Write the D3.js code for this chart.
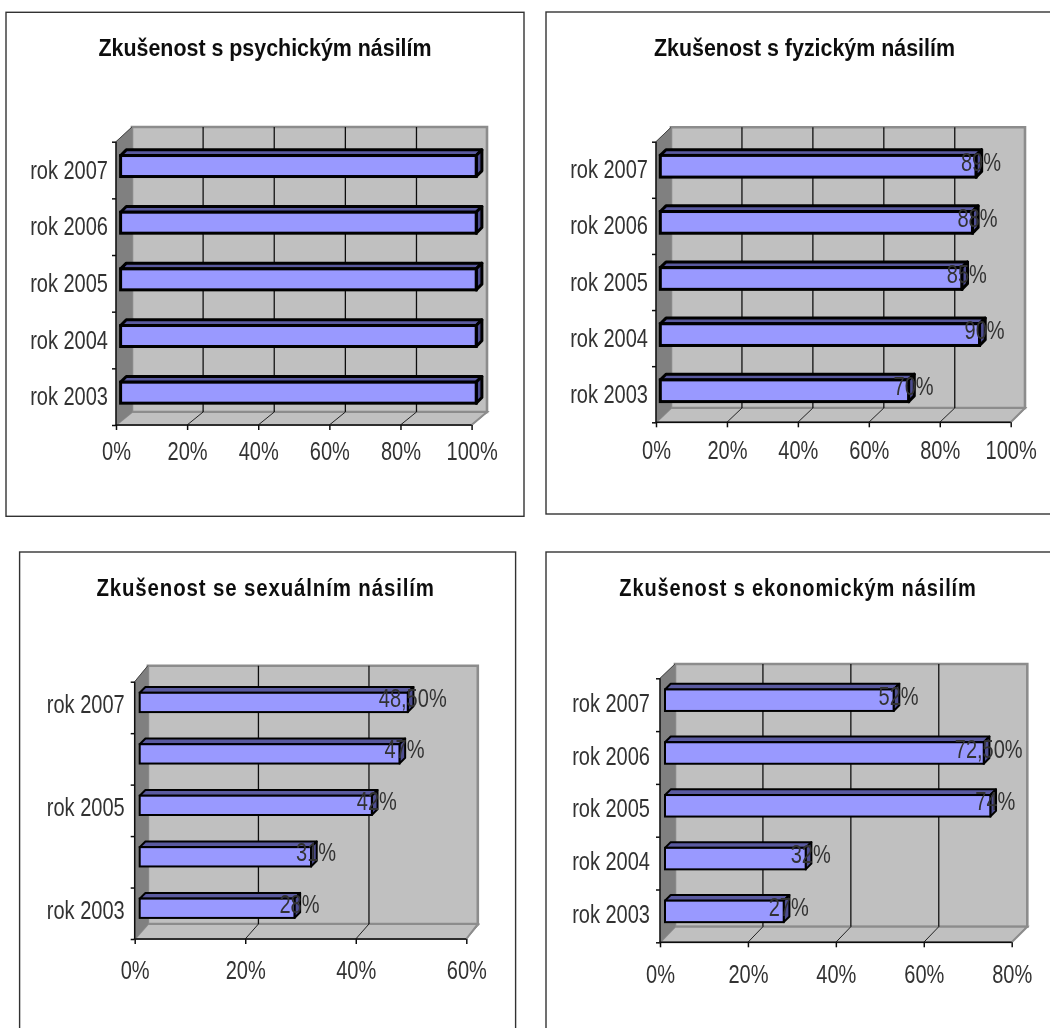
<!DOCTYPE html>
<html>
<head>
<meta charset="utf-8">
<script src="https://cdnjs.cloudflare.com/ajax/libs/d3/7.8.5/d3.min.js"></script>
<style>
html,body{margin:0;padding:0;background:#fff;overflow:hidden}
svg{display:block}
text{font-family:"Liberation Sans",Arial,sans-serif}
</style>
</head>
<body>
<svg id="c" width="1050" height="1028"></svg>
<script>
const years = ["rok 2003","rok 2004","rok 2005","rok 2006","rok 2007"];
const titles = ["Zkušenost s psychickým násilím","Zkušenost s fyzickým násilím","Zkušenost se sexuálním násilím","Zkušenost s ekonomickým násilím"];
const psychicke = [100,100,100,100,100];
const fyzicke = [70,90,85,88,89];
const sexualni = [28,31,42,47,48.5];
const ekonomicke = [27,32,74,72.5,52];
const sexualniCategoryLabels = ["rok 2003","","rok 2005","","rok 2007"];
const axisMax = [100,100,60,80];

const layouts = [
 {frame:[6,12.3,518,504],title:[98.5,431.5,56],ls:0,x0:116,x1:471.6,yT:141.7,yB:425,wL:132,wR:487,wT:127,wB:412,off:4.6,offY:4,bh:21,sw:3,labelDy:35.5,catDx:8,catDy:8.5,showLabels:false},
 {frame:[546,12,560,502],title:[654,955,56],ls:0,x0:656,x1:1010.7,yT:141.7,yB:422.3,wL:671,wR:1025,wT:127.3,wB:408,off:4.3,offY:3.5,bh:21.7,sw:3,labelDy:36.5,catDx:8,catDy:8.5,showLabels:true},
 {frame:[19.6,552,496,520],title:[96.4,434.9,596],ls:1,x0:134.7,x1:466.3,yT:681.7,yB:939,wL:147.9,wR:477.8,wT:665.7,wB:924,off:5,offY:5,bh:19.3,sw:2,labelDy:40.5,catDx:10,catDy:6,showLabels:true},
 {frame:[546,552,560,520],title:[619.3,976.7,595.5],ls:1,x0:660,x1:1011.7,yT:678.3,yB:942.3,wL:675,wR:1027.3,wT:664,wB:926.7,off:5,offY:4.5,bh:21.5,sw:2,labelDy:40.5,catDx:10,catDy:7,showLabels:true}
];
const seriesList = [psychicke,fyzicke,sexualni,ekonomicke];
const catList = [years,years,sexualniCategoryLabels,years];

const SX = 0.77, FS = 26, SIDE = 5.7;
const svg = d3.select("#c");
svg.append("defs").append("filter").attr("id","soft").attr("x","-2%").attr("y","-2%").attr("width","104%").attr("height","104%")
  .append("feGaussianBlur").attr("stdDeviation",0.4);
const root = svg.append("g").attr("filter","url(#soft)");
root.append("rect").attr("width",1050).attr("height",1028).attr("fill","#fff");

const fmt = v => (v % 1 ? v.toFixed(2).replace(".",",") : String(v)) + "%";
const poly = pts => "M" + pts.map(p=>p.join(",")).join("L") + "Z";

layouts.forEach((L,i)=>{
  const g = root.append("g");
  const [fx,fy,fw,fh] = L.frame;
  g.append("rect").attr("x",fx).attr("y",fy).attr("width",fw).attr("height",fh)
    .attr("fill","#fff").attr("stroke","#333").attr("stroke-width",1.4);
  g.append("text").attr("x",L.title[0]).attr("y",L.title[2]).text(titles[i])
    .attr("font-size",23).attr("font-weight","bold").attr("fill","#111")
    .attr("letter-spacing",L.ls)
    .attr("textLength",L.title[1]-L.title[0]).attr("lengthAdjust","spacingAndGlyphs");

  const x = d3.scaleLinear().domain([0,axisMax[i]]).range([L.x0,L.x1]);
  const band = d3.scaleBand().domain(d3.range(5)).range([L.yB,L.yT]).paddingInner(0).paddingOuter(0);
  const edges = d3.scaleLinear().domain([0,5]).range([L.yB,L.yT]);
  const dx = L.wL-L.x0;
  const ticks = d3.range(0,axisMax[i]+1,20);

  g.append("path").attr("d",poly([[L.wL,L.wT],[L.wR,L.wT],[L.wR,L.wB],[L.wL,L.wB]]))
    .attr("fill","#c0c0c0").attr("stroke","#8c8c8c").attr("stroke-width",2.6);
  g.append("path").attr("d",poly([[L.x0,L.yB],[L.wL,L.wB],[L.wR,L.wB],[L.x1,L.yB]]))
    .attr("fill","#c0c0c0").attr("stroke","#8c8c8c").attr("stroke-width",2);
  g.append("path").attr("d",poly([[L.x0,L.yT],[L.wL,L.wT],[L.wL,L.wB],[L.x0,L.yB]]))
    .attr("fill","#808080").attr("stroke","#808080").attr("stroke-width",0.6);

  g.selectAll("line.grid").data(ticks.slice(1,-1)).join("line").attr("class","grid")
    .attr("x1",d=>x(d)+dx).attr("x2",d=>x(d)+dx).attr("y1",L.wT).attr("y2",L.wB)
    .attr("stroke","#111").attr("stroke-width",1.3);
  g.selectAll("line.floor").data(ticks.slice(1)).join("line").attr("class","floor")
    .attr("x1",d=>x(d)).attr("x2",d=>x(d)+dx).attr("y1",L.yB).attr("y2",L.wB)
    .attr("stroke",(d,k)=>k===ticks.length-2?"#8c8c8c":"#222").attr("stroke-width",1);
  g.append("line").attr("x1",L.x0).attr("y1",L.yT).attr("x2",L.wL).attr("y2",L.wT).attr("stroke","#444").attr("stroke-width",1);

  const yAxis = g.append("g").attr("transform",`translate(${L.x0},0)`)
    .call(d3.axisLeft(edges).ticks(5).tickSize(4).tickFormat(""));
  const xAxis = g.append("g").attr("transform",`translate(0,${L.yB})`)
    .call(d3.axisBottom(x).tickValues(ticks).tickSize(5).tickFormat(d=>d+"%"));
  [yAxis,xAxis].forEach(a=>{a.selectAll("path,line").attr("stroke","#111").attr("stroke-width",1.5);});
  yAxis.select("path").attr("d",`M0,${L.yT}V${L.yB}`);
  xAxis.select("path").attr("d",`M${L.x0},0H${L.x1}`);
  xAxis.selectAll("text").attr("y",L.labelDy).attr("dy",null).attr("font-size",FS)
    .attr("fill","#333").attr("font-family",'"Liberation Sans",Arial,sans-serif').attr("transform",`scale(${SX},1)`);

  catList[i].forEach((c,k)=>{
    if(!c) return;
    const yc = band(k)+band.bandwidth()/2+L.catDy;
    g.append("text").attr("transform",`translate(${L.x0-L.catDx},${yc}) scale(${SX},1)`)
      .attr("text-anchor","end").attr("font-size",FS).attr("fill","#333").text(c);
  });

  const bars = g.selectAll("g.bar").data(seriesList[i]).join("g").attr("class","bar");
  const yTop = k => band(k)+band.bandwidth()/2-L.offY-L.bh/2;
  const x0b = L.x0+L.off;
  const xE = v => x(v)+L.off;
  bars.append("path").attr("d",(v,k)=>poly([[x0b,yTop(k)],[x0b+SIDE,yTop(k)-SIDE],[xE(v)+SIDE,yTop(k)-SIDE],[xE(v),yTop(k)]]))
    .attr("fill","#5a5aa0").attr("stroke","#000").attr("stroke-width",L.sw).attr("stroke-linejoin","round");
  bars.append("path").attr("d",(v,k)=>poly([[xE(v),yTop(k)],[xE(v)+SIDE,yTop(k)-SIDE],[xE(v)+SIDE,yTop(k)+L.bh-SIDE],[xE(v),yTop(k)+L.bh]]))
    .attr("fill","#4d4d8f").attr("stroke","#000").attr("stroke-width",L.sw).attr("stroke-linejoin","round");
  bars.append("rect").attr("x",x0b).attr("y",(v,k)=>yTop(k)).attr("width",v=>xE(v)-x0b).attr("height",L.bh)
    .attr("fill","#9999ff").attr("stroke","#000").attr("stroke-width",L.sw);
  if(L.showLabels){
    bars.append("text").attr("transform",(v,k)=>`translate(${xE(v)+5},${yTop(k)+L.bh/2-4+8.5}) scale(${SX},1)`)
      .attr("text-anchor","middle").attr("font-size",FS).attr("fill","#333").text(fmt);
  }
});
</script>
</body>
</html>
